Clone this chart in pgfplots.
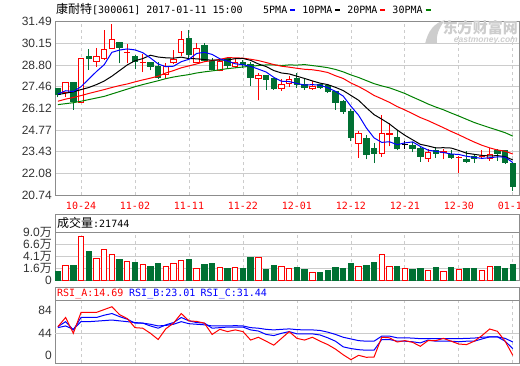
\documentclass[border=0pt]{standalone}
\usepackage{fontspec}
\setmainfont{Liberation Sans}
\newfontfamily\cjk{Noto Sans CJK SC}
\newfontfamily\mono{DejaVu Sans Mono}
\usepackage{pgfplots}
\usepackage{pgfplotstable}
\pgfplotsset{compat=1.18}
\definecolor{cR}{RGB}{255,0,0}
\definecolor{cG}{RGB}{0,112,51}
\definecolor{cB}{RGB}{0,0,255}
\definecolor{cMG}{RGB}{0,128,0}
\definecolor{gridc}{RGB}{204,204,204}
\definecolor{framec}{RGB}{140,140,140}
\definecolor{wm}{RGB}{205,205,205}

% moving averages
\pgfplotstableread{
i ma5 ma10 ma20 ma30
0 27.00 26.96 26.55 26.34
1 27.20 27.05 26.68 26.40
2 27.15 27.13 26.78 26.46
3 27.45 27.27 26.90 26.55
4 27.92 27.40 27.03 26.65
5 28.39 27.58 27.15 26.75
6 28.81 27.80 27.27 26.85
7 29.58 28.10 27.40 27.00
8 29.72 28.45 27.52 27.15
9 29.79 28.80 27.62 27.30
10 29.73 29.06 27.75 27.45
11 29.56 29.19 27.87 27.58
12 29.23 29.40 27.98 27.70
13 28.86 29.29 28.10 27.82
14 28.69 29.24 28.30 27.95
15 28.72 29.22 28.45 28.05
16 29.00 29.28 28.62 28.13
17 29.15 29.19 28.74 28.20
18 29.51 29.18 28.86 28.30
19 29.58 29.13 29.00 28.37
20 29.45 29.09 29.07 28.43
21 29.18 29.09 29.14 28.50
22 29.04 29.10 29.25 28.57
23 28.87 29.19 29.24 28.62
24 28.81 29.20 29.22 28.67
25 28.71 29.08 29.15 28.72
26 28.54 28.86 29.07 28.76
27 28.36 28.70 28.95 28.80
28 28.03 28.45 28.82 28.80
29 27.79 28.30 28.72 28.76
30 27.77 28.24 28.66 28.80
31 27.65 28.10 28.59 28.79
32 27.55 27.96 28.53 28.82
33 27.58 27.81 28.50 28.76
34 27.54 27.67 28.43 28.70
35 27.39 27.58 28.33 28.63
36 27.16 27.41 28.13 28.52
37 26.87 27.21 27.96 28.37
38 26.24 26.91 27.68 28.18
39 25.68 26.61 27.46 28.02
40 24.90 26.15 27.20 27.83
41 24.28 25.72 26.91 27.64
42 24.00 25.44 26.70 27.50
43 24.04 25.14 26.48 27.38
44 23.86 24.77 26.22 27.21
45 23.97 24.44 26.01 27.03
46 24.03 24.16 25.78 26.81
47 23.75 23.88 25.54 26.60
48 23.52 23.78 25.35 26.38
49 23.45 23.66 25.13 26.19
50 23.37 23.67 24.91 26.02
51 23.28 23.65 24.68 25.82
52 23.25 23.50 24.47 25.63
53 23.14 23.33 24.24 25.43
54 23.07 23.26 24.02 25.23
55 23.01 23.19 23.82 25.07
56 23.05 23.16 23.66 24.91
57 23.10 23.18 23.53 24.76
58 23.09 23.12 23.45 24.60
59 22.75 22.91 23.28 24.39
}\matable

% candle bodies: i, body bottom, body height
\pgfplotstableread{
i lq h
1 27.07 0.62
3 26.45 2.75
5 28.99 0.32
6 29.18 0.60
7 29.82 0.58
9 29.55 0.05
11 28.93 0.03
14 28.21 0.51
15 28.93 0.21
16 29.55 0.85
18 28.95 0.87
21 28.46 0.56
23 28.72 0.25
26 27.95 0.21
29 27.33 0.25
30 27.64 0.25
33 27.33 0.15
39 23.96 0.62
42 23.33 1.19
43 24.48 0.04
48 23.03 0.36
50 23.40 0.04
52 23.04 0.04
55 23.10 0.03
56 23.03 0.24
}\redbody

\pgfplotstableread{
i lq h
0 26.96 0.38
2 26.55 1.14
4 29.22 0.08
8 29.87 0.31
10 28.99 0.36
12 28.72 0.25
13 28.04 0.68
17 29.45 1.01
19 29.10 0.90
20 28.50 0.52
22 28.78 0.42
24 28.80 0.17
25 27.99 0.84
27 27.89 0.25
28 27.33 0.62
31 27.58 0.37
32 27.38 0.20
34 27.38 0.20
35 27.13 0.41
36 26.45 0.68
37 25.93 0.62
38 24.31 1.62
40 23.27 0.95
41 23.33 0.27
44 23.65 0.68
46 23.60 0.23
47 23.12 0.53
49 23.30 0.20
51 23.06 0.21
53 22.81 0.11
54 22.98 0.14
57 23.33 0.15
58 22.75 0.75
59 21.26 1.45
}\greenbody

\pgfplotstableread{
i vr vg
0 nan 1.77
1 3.06 nan
2 nan 2.99
3 9.12 nan
4 nan 5.98
5 4.64 nan
6 6.35 nan
7 5.49 nan
8 nan 4.27
9 4.00 nan
10 nan 3.70
11 3.20 nan
12 nan 2.78
13 nan 3.42
14 2.93 nan
15 3.57 nan
16 4.21 nan
17 nan 4.27
18 2.50 nan
19 nan 3.20
20 nan 3.42
21 2.71 nan
22 nan 2.35
23 2.71 nan
24 nan 2.35
25 nan 4.70
26 4.85 nan
27 nan 2.14
28 nan 2.99
29 2.84 nan
30 2.50 nan
31 nan 2.56
32 nan 2.14
33 1.65 nan
34 nan 1.50
35 nan 1.92
36 nan 2.56
37 nan 2.35
38 nan 3.42
39 2.93 nan
40 nan 2.99
41 nan 3.63
42 5.49 nan
43 2.93 nan
44 nan 2.78
45 2.50 nan
46 nan 2.14
47 nan 2.35
48 2.07 nan
49 nan 2.56
50 1.86 nan
51 nan 2.56
52 2.29 nan
53 nan 2.35
54 nan 2.35
55 2.07 nan
56 2.93 nan
57 nan 2.78
58 nan 2.35
59 nan 3.20
}\voltable

\pgfplotstableread{
i a b c
0 55.7 55.8 54
1 72 64.6 57
2 44 50 51
3 81 72 64.6
4 81 72 64.6
5 81 72 65.5
6 86 76 66.5
7 91 79 67.5
8 77 73.5 66
9 70 69 64.6
10 54 62 63
11 53 62 62
12 44 57 60
13 33 53 57
14 52 59 58
15 62 63 60
16 79 72 64.6
17 66 66 61
18 65 63 60
19 62 62 59
20 42 53 57
21 51 54 57
22 47 55 57
23 50 55 57.5
24 47 55 57
25 32 50 54
26 37 48 53
27 30 42 51
28 23 40 50
29 35 44 51
30 47 47 51.8
31 35 43 50.5
32 32 43 50
33 37 43 50
34 30 41 49
35 24 36 46
36 16 30 42
37 6 20 37
38 -2.7 17 34
39 5 15 31
40 1.5 14 30
41 2 14 30
42 37 33 39
43 36 33 39
44 28.6 30 36
45 31 30 36
46 28 29 35.5
47 21 27 34.5
48 31 32 34.5
49 31 30 34.5
50 35 30 34.5
51 30 30 34.5
52 25 29 34.5
53 24 30 35
54 30 30 35.5
55 40 34 37
56 51.6 37.7 37.7
57 47.5 37.7 37.7
58 30 30 35
59 5 16.8 28.6
}\rsitable

\pgfplotsset{
  panel/.style={scale only axis, width=464pt, xmin=-0.376, xmax=59.8,
    major tick length=0pt, tick style={draw=none},
    axis line style={draw=framec, line width=1pt},
    /pgf/number format/assume math mode=true,
    yticklabel style={font=\fontsize{12}{12}\selectfont, text=black!80, anchor=east, inner sep=0pt, xshift=-3pt},
    extra x ticks={3,10,17,24,31,38,45,52,59}, extra x tick labels={},
    extra x tick style={grid=major, major grid style={draw=gridc, line width=0.8pt, dash pattern=on 3pt off 3pt}},
  },
  pricegeom/.style={scale only axis, width=464pt, height=173.5pt, at={(55pt,170pt)}, anchor=south west,
    xmin=-0.376, xmax=59.8, ymin=20.74, ymax=31.49},
  overlay/.style={pricegeom, hide axis},
}

\begin{document}
\begin{tikzpicture}
\useasboundingbox (0,0) rectangle (520pt,365pt);

% ---------------- price panel: frame, grid, labels, wicks ----------------
\begin{axis}[panel, pricegeom,
  ytick={20.74,22.08,23.43,24.77,26.12,27.46,28.80,30.15,31.49},
  yticklabels={20.74,22.08,23.43,24.77,26.12,27.46,28.80,30.15,31.49},
  ymajorgrids, major grid style={draw=gridc, line width=0.8pt},
  xtick={3,10,17,24,31,38,45,52,59},
  xticklabels={10-24,11-02,11-11,11-22,12-01,12-12,12-21,12-30,01-11},
  xticklabel style={font=\mono\fontsize{10}{10}\selectfont, text=cR, anchor=north, inner sep=0pt, yshift=-7pt},
]
% wicks (low to high), one segment per day
\addplot[cR, line width=1pt, unbounded coords=jump] coordinates {
(1,26.79) (1,27.72) (1,nan) (3,26.45) (3,29.20) (3,nan) (5,28.69) (5,29.82) (5,nan)
(6,29.10) (6,30.96) (6,nan) (7,29.80) (7,31.32) (7,nan) (9,28.89) (9,30.09) (9,nan)
(11,28.35) (11,29.47) (11,nan) (14,27.93) (14,28.93) (14,nan) (15,28.84) (15,29.71) (15,nan)
(16,29.35) (16,30.88) (16,nan) (18,28.90) (18,30.18) (18,nan) (21,28.40) (21,29.10) (21,nan)
(23,28.60) (23,29.20) (23,nan) (26,26.61) (26,28.30) (26,nan) (29,27.20) (29,27.90) (29,nan)
(30,27.44) (30,28.14) (30,nan) (33,27.27) (33,27.80) (33,nan) (39,23.03) (39,24.70) (39,nan)
(42,23.10) (42,25.70) (42,nan) (43,23.75) (43,25.20) (43,nan) (48,22.81) (48,23.60) (48,nan)
(50,22.97) (50,23.60) (50,nan) (52,22.12) (52,23.15) (52,nan) (55,22.97) (55,23.50) (55,nan)
(56,22.85) (56,23.68)
};
\addplot[cG, line width=1pt, unbounded coords=jump] coordinates {
(0,26.79) (0,27.40) (0,nan) (2,26.03) (2,27.72) (2,nan) (4,28.47) (4,29.78) (4,nan)
(8,28.90) (8,30.22) (8,nan) (10,28.52) (10,29.40) (10,nan) (12,28.46) (12,29.00) (12,nan)
(13,27.90) (13,28.97) (13,nan) (17,29.10) (17,30.96) (17,nan) (19,29.00) (19,30.18) (19,nan)
(20,28.48) (20,29.20) (20,nan) (22,28.55) (22,29.22) (22,nan) (24,28.60) (24,29.10) (24,nan)
(25,27.50) (25,28.95) (25,nan) (27,27.27) (27,28.20) (27,nan) (28,27.27) (28,28.00) (28,nan)
(31,27.38) (31,28.31) (31,nan) (32,27.27) (32,27.90) (32,nan) (34,27.30) (34,27.62) (34,nan)
(35,27.05) (35,27.60) (35,nan) (36,26.03) (36,27.21) (36,nan) (37,25.77) (37,26.65) (37,nan)
(38,24.06) (38,26.07) (38,nan) (40,22.95) (40,24.43) (40,nan) (41,22.71) (41,23.96) (41,nan)
(44,23.50) (44,24.75) (44,nan) (46,23.40) (46,24.00) (46,nan) (47,22.81) (47,23.75) (47,nan)
(49,23.05) (49,23.70) (49,nan) (51,22.97) (51,23.50) (51,nan) (53,22.71) (53,23.45) (53,nan)
(54,22.75) (54,23.20) (54,nan) (57,22.85) (57,23.60) (57,nan) (58,22.65) (58,23.55) (58,nan)
(59,20.99) (59,22.71)
};
% day 45: unchanged (doji) drawn black
\addplot[black, line width=1pt, unbounded coords=jump] coordinates {
(45,23.60) (45,24.10) (45,nan) (44.65,23.85) (45.35,23.85)
};
\end{axis}

% red (rising) bodies: hollow
\begin{axis}[overlay, ybar stacked, bar width=0.7]
\addplot[draw=none, fill=none] table[x=i, y=lq] {\redbody};
\addplot[draw=cR, fill=white, line width=1pt] table[x=i, y=h] {\redbody};
\end{axis}

% green (falling) bodies: filled
\begin{axis}[overlay, ybar stacked, bar width=0.7]
\addplot[draw=none, fill=none] table[x=i, y=lq] {\greenbody};
\addplot[draw=cG, fill=cG, line width=1pt] table[x=i, y=h] {\greenbody};
\end{axis}

% moving averages on top
\begin{axis}[overlay]
\addplot[cMG, line width=1pt, mark=none] table[x=i, y=ma30] {\matable};
\addplot[cR, line width=1pt, mark=none] table[x=i, y=ma20] {\matable};
\addplot[black, line width=1pt, mark=none] table[x=i, y=ma10] {\matable};
\addplot[cB, line width=1pt, mark=none] table[x=i, y=ma5] {\matable};
\end{axis}

% ---------------- volume panel ----------------
\begin{axis}[panel, at={(55pt,85pt)}, anchor=south west, height=47.3pt,
  ymin=0, ymax=10,
  ytick={0,2.5,5,7.5,10},
  yticklabels={0,1.6{\cjk 万},4.1{\cjk 万},6.6{\cjk 万},9.0{\cjk 万}},
  ymajorgrids, major grid style={draw=gridc, line width=0.8pt},
  xtick=\empty,
]
\addplot[ybar, bar width=0.7, bar shift=0pt, draw=cR, fill=white, line width=1pt] table[x=i, y=vr] {\voltable};
\addplot[ybar, bar width=0.7, bar shift=0pt, draw=cG, fill=cG, line width=1pt] table[x=i, y=vg] {\voltable};
\end{axis}
\draw[framec, line width=1pt] (55pt,132.3pt) rectangle (519pt,151pt);

% ---------------- RSI panel ----------------
\begin{axis}[panel, at={(55pt,2pt)}, anchor=south west, height=62.3pt,
  ymin=-8.6, ymax=101.7,
  ytick={5.6,44,84}, yticklabels={0,44,84},
  extra y ticks={44}, extra y tick labels={},
  extra y tick style={grid=major, major grid style={draw=gridc, line width=0.8pt}},
  xtick=\empty,
]
\addplot[cB, line width=1pt, mark=none] table[x=i, y=c] {\rsitable};
\addplot[cB, line width=1pt, mark=none] table[x=i, y=b] {\rsitable};
\addplot[cR, line width=1pt, mark=none] table[x=i, y=a] {\rsitable};
\end{axis}
\draw[framec, line width=1pt] (55pt,64.3pt) rectangle (519pt,77.7pt);

% ---------------- texts ----------------
\node[anchor=west, inner sep=0pt] at (56pt,355.5pt)
  {{\cjk\fontsize{12}{12}\selectfont 康耐特}{\mono\fontsize{10}{10}\selectfont [300061] 2017-01-11 15:00}};
\node[anchor=west, inner sep=0pt] at (263pt,355.5pt)
  {\mono\fontsize{10}{10}\selectfont 5PMA\hspace{3pt}\textcolor{cB}{\rule[2pt]{5pt}{2.5pt}}\hspace{7pt}10PMA\hspace{3pt}\textcolor{black}{\rule[2pt]{5pt}{2.5pt}}\hspace{7pt}20PMA\hspace{3pt}\textcolor{cR}{\rule[2pt]{5pt}{2.5pt}}\hspace{7pt}30PMA\hspace{3pt}\textcolor{cMG}{\rule[2pt]{5pt}{2.5pt}}};
\node[anchor=west, inner sep=0pt] at (57pt,142pt)
  {{\cjk\fontsize{12}{12}\selectfont 成交量}{\mono\fontsize{10}{10}\selectfont :21744}};
\node[anchor=west, inner sep=0pt, text=cR] at (57pt,71pt) {\mono\fontsize{10}{10}\selectfont RSI\_A:14.69};
\node[anchor=west, inner sep=0pt, text=cB] at (129pt,71pt) {\mono\fontsize{10}{10}\selectfont RSI\_B:23.01};
\node[anchor=west, inner sep=0pt, text=cB] at (200.5pt,71pt) {\mono\fontsize{10}{10}\selectfont RSI\_C:31.44};

% watermark
\fill[wm] (425pt,321pt) .. controls (428pt,334pt) and (434pt,342pt) .. (445pt,345pt)
  .. controls (439pt,337pt) and (436pt,330pt) .. (437pt,322pt) -- cycle;
\node[anchor=east, inner sep=0pt, text=wm] at (518pt,337pt) {\cjk\bfseries\fontsize{15}{15}\selectfont 东方财富网};
\node[anchor=east, inner sep=0pt, text=wm] at (518pt,324pt) {\bfseries\itshape\fontsize{8.5}{8.5}\selectfont eastmoney.com};
\end{tikzpicture}
\end{document}
